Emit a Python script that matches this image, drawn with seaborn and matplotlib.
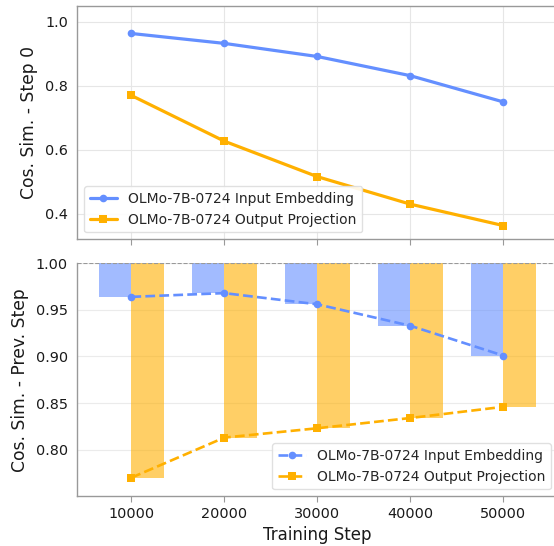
import numpy as np
import pandas as pd
import matplotlib
matplotlib.use("Agg")
import matplotlib.pyplot as plt
import seaborn as sns

steps = [10000, 20000, 30000, 40000, 50000]
input_step0 = [0.964, 0.933, 0.892, 0.832, 0.750]
output_step0 = [0.770, 0.627, 0.516, 0.430, 0.363]
input_prev = [0.964, 0.968, 0.956, 0.933, 0.901]
output_prev = [0.770, 0.813, 0.823, 0.834, 0.846]
label_in = "OLMo-7B-0724 Input Embedding"
label_out = "OLMo-7B-0724 Output Projection"

BLUE = "#648FFF"
ORANGE = "#FFB000"

sns.set_theme(style="white")
plt.rcParams['font.family'] = ['DejaVu Sans']

fig = plt.figure(figsize=(5.54, 5.46), dpi=100)
left = 77.0 / 554
right = 557.6 / 554
width = right - left
ax1 = fig.add_axes([left, 1 - 239.3 / 546, width, 233.3 / 546])
ax2 = fig.add_axes([left, 1 - 496.3 / 546, width, 233.0 / 546])

XL = (4150, 55850)

# ---- top panel ----
sns.lineplot(x=steps, y=input_step0, ax=ax1, color=BLUE, marker='o', linewidth=2.3,
             markersize=5.5, markeredgewidth=0, label=label_in)
sns.lineplot(x=steps, y=output_step0, ax=ax1, color=ORANGE, marker='s', linewidth=2.3,
             markersize=5.5, markeredgewidth=0, label=label_out)
ax1.set_xlim(*XL)
ax1.set_ylim(0.32, 1.05)
ax1.set_yticks([0.4, 0.6, 0.8, 1.0])
ax1.set_xticks(steps)
ax1.set_xticklabels([])
ax1.grid(True, color="#e6e6e6", linewidth=0.8)
ax1.set_axisbelow(True)
ax1.set_ylabel("Cos. Sim. - Step 0", fontsize=12.3, color="#1a1a1a", labelpad=5)
ax1.legend(loc='lower left', fontsize=10, frameon=True, edgecolor="#dddddd",
           framealpha=0.9, handlelength=2.0)

# ---- bottom panel ----
bw = 3500
xs = np.array(steps)
ax2.bar(xs - bw / 2, 1 - np.array(input_prev), bottom=input_prev, width=bw,
        color=BLUE, alpha=0.6, zorder=2, linewidth=0)
ax2.bar(xs + bw / 2, 1 - np.array(output_prev), bottom=output_prev, width=bw,
        color=ORANGE, alpha=0.6, zorder=2, linewidth=0)
sns.lineplot(x=steps, y=input_prev, ax=ax2, color=BLUE, marker='o', linewidth=1.9,
             linestyle='--', markersize=5.5, markeredgewidth=0, label=label_in, zorder=3)
sns.lineplot(x=steps, y=output_prev, ax=ax2, color=ORANGE, marker='s', linewidth=1.9,
             linestyle='--', markersize=5.5, markeredgewidth=0, label=label_out, zorder=3)
ax2.axhline(1.0, color="#999999", linestyle='--', linewidth=0.8, zorder=4)
ax2.set_xlim(*XL)
ax2.set_ylim(0.75, 1.0)
ax2.set_yticks([0.80, 0.85, 0.90, 0.95, 1.00])
ax2.set_yticklabels(["0.80", "0.85", "0.90", "0.95", "1.00"])
ax2.set_xticks(steps)
ax2.set_xticklabels([str(s) for s in steps])
ax2.grid(True, axis='y', color="#ebebeb", linewidth=0.8)
ax2.set_axisbelow(True)
ax2.set_ylabel("Cos. Sim. - Prev. Step", fontsize=12.3, color="#1a1a1a", labelpad=5)
ax2.set_xlabel("Training Step", fontsize=12, color="#1a1a1a")
ax2.legend(loc='lower right', fontsize=10, frameon=True, edgecolor="#dddddd",
           framealpha=0.9, handlelength=2.0)

for ax in (ax1, ax2):
    for s in ('left', 'bottom', 'top'):
        ax.spines[s].set_color("#999999")
        ax.spines[s].set_linewidth(1.0)
    ax.spines['right'].set_visible(False)
    ax.tick_params(axis='x', length=4, color="#999999", width=0.8, labelsize=10.4,
                   labelcolor="#1a1a1a", bottom=True)
    ax.tick_params(axis='y', length=0, pad=6.5, labelsize=10.4, labelcolor="#1a1a1a")
ax2.spines['top'].set_visible(False)

fig.savefig("out.png", dpi=100)
